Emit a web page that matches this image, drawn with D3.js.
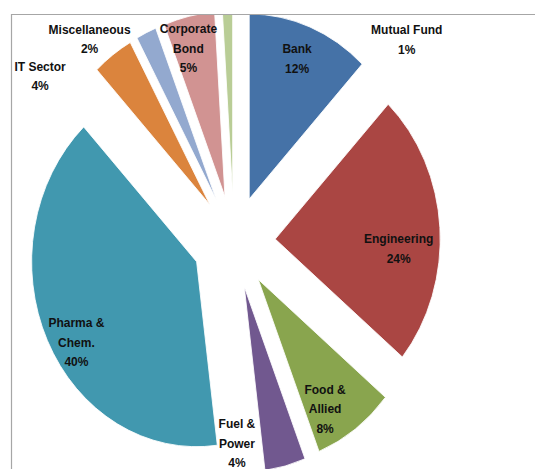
<!DOCTYPE html>
<html>
<head>
<meta charset="utf-8">
<script src="https://cdn.jsdelivr.net/npm/d3@7"></script>
<style>
  body { margin: 0; background: #fff; }
  svg { display: block; }
</style>
</head>
<body>
<div id="canvas"></div>
<script>
(function(d3){

  // slices, clockwise from 12 o'clock
  var categories = ['Bank', 'Engineering', 'Food & Allied', 'Fuel & Power', 'Pharma & Chem.',
                    'IT Sector', 'Miscellaneous', 'Corporate Bond', 'Mutual Fund'],
      values = [12, 24, 8, 4, 40, 4, 2, 5, 1],
      labelLines = [['Bank'], ['Engineering'], ['Food &', 'Allied'], ['Fuel &', 'Power'],
                    ['Pharma &', 'Chem.'], ['IT Sector'], ['Miscellaneous'], ['Corporate', 'Bond'],
                    ['Mutual Fund']],
      colors = ['#4572A7', '#AA4643', '#89A54E', '#71588F', '#4198AF',
                '#DB843D', '#93A9CF', '#D19392', '#B9CD96'];

  // label placement: distance (share of radius) and angle (deg) from the slice tip
  var labelDist = [0.81, 0.75, 0.81, 0.85, 0.85, 1.24, 1.16, 0.83, 1.35],
      labelAngle = [21, 94, 150, 183, 239, 304, 318.5, 344.5, 51.4];

  var canvas_d = {width: 535, height: 469},
      frame = {left: 11, top: 14},
      center = {x: 234, y: 242},
      radius = 165,
      stretch = 1.121,     // picture is taller than wide
      explode = 41.3,
      lineHeight = 19.5;

  var svg = d3.select('#canvas').append('svg')
      .attr('width', canvas_d.width)
      .attr('height', canvas_d.height);

  svg.append('clipPath').attr('id', 'plot')
    .append('rect')
      .attr('x', frame.left).attr('y', frame.top)
      .attr('width', canvas_d.width).attr('height', canvas_d.height);

  var pie = d3.pie().sort(null).value(function(d){ return d; }),
      arc = d3.arc().innerRadius(0).outerRadius(radius),
      slices = pie(values);

  function mid(s) { return (s.startAngle + s.endAngle) / 2; }

  var chart = svg.append('g').attr('clip-path', 'url(#plot)')
    .append('g')
      .attr('transform', 'translate(' + center.x + ',' + center.y + ') scale(1,' + stretch + ')');

  chart.selectAll('path')
      .data(slices)
    .enter().append('path')
      .attr('d', arc)
      .attr('fill', function(d, i){ return colors[i]; })
      .attr('stroke', '#fff')
      .attr('stroke-width', 0.8)
      .attr('transform', function(d){
        var a = mid(d);
        return 'translate(' + (explode * Math.sin(a)) + ',' + (-explode * Math.cos(a)) + ')';
      });

  // frame
  svg.append('path')
      .attr('d', 'M' + (canvas_d.width + 1) + ',' + (frame.top + 0.5) + 'H' + (frame.left + 0.5) + 'V' + (canvas_d.height + 1))
      .attr('fill', 'none')
      .attr('stroke', '#a6a6a6')
      .attr('stroke-width', 1.2);

  // labels
  var labels = svg.append('g')
      .attr('font-family', '"Liberation Sans", Arial, sans-serif')
      .attr('font-size', '12px')
      .attr('font-weight', 'bold')
      .attr('fill', '#111')
      .attr('text-anchor', 'middle');

  slices.forEach(function(s, i){
    var a = mid(s),
        tipX = center.x + explode * Math.sin(a),
        tipY = center.y - explode * Math.cos(a) * stretch,
        b = labelAngle[i] * Math.PI / 180,
        x = tipX + labelDist[i] * radius * Math.sin(b),
        y = tipY - labelDist[i] * radius * Math.cos(b) * stretch,
        lines = labelLines[i].concat([values[i] + '%']),
        n = lines.length;

    var t = labels.append('text').attr('x', x).attr('y', y);
    lines.forEach(function(line, j){
      t.append('tspan')
          .attr('x', x)
          .attr('y', y + (j - (n - 1) / 2) * lineHeight + 4)
          .text(line);
    });
  });

})(d3);
</script>
</body>
</html>
